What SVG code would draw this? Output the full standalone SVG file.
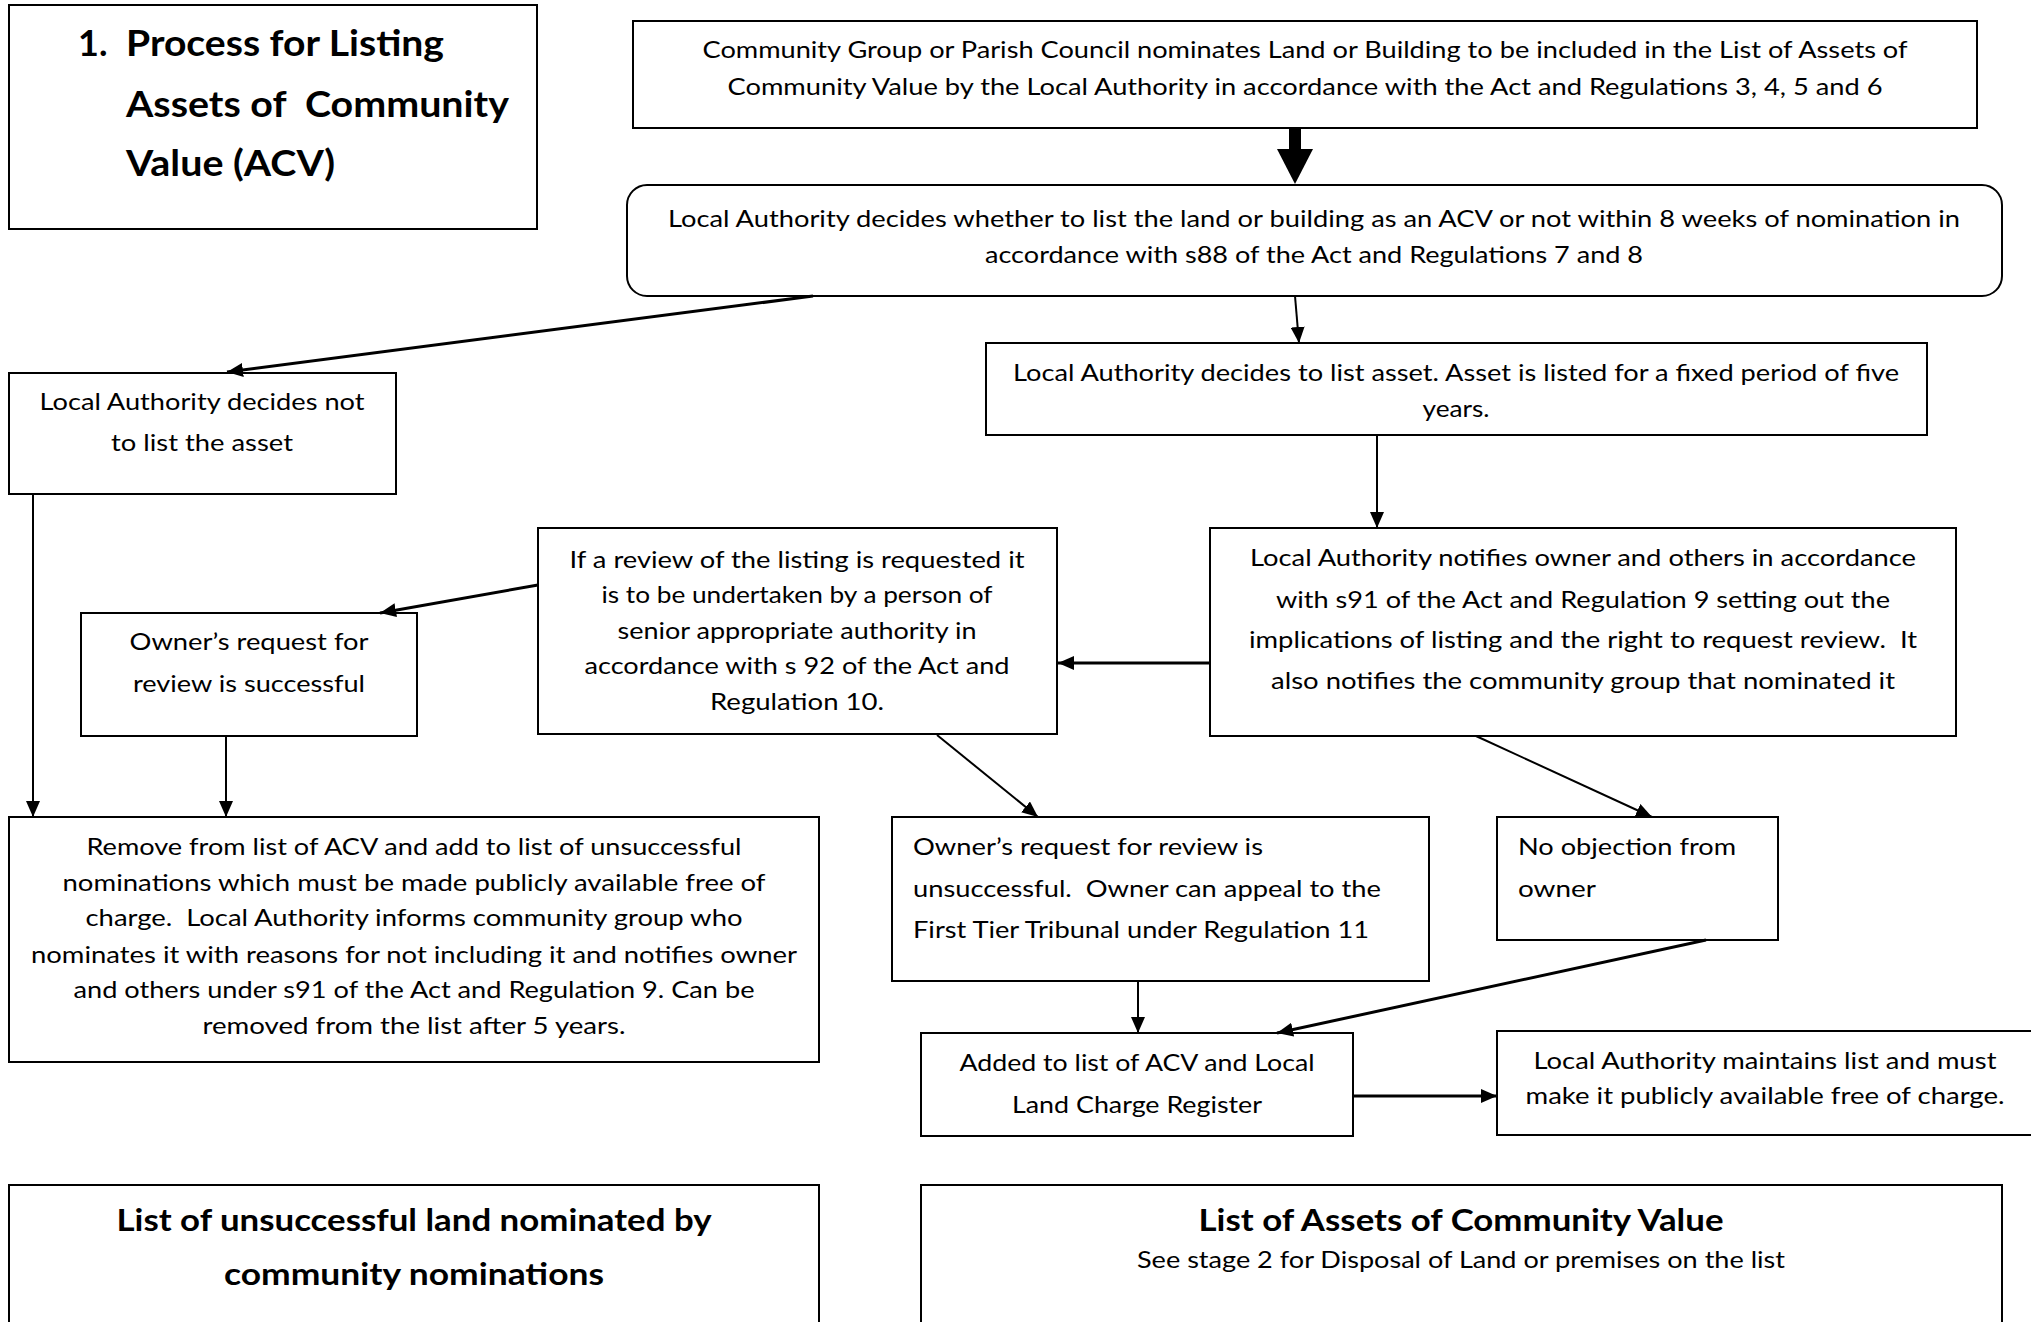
<svg xmlns="http://www.w3.org/2000/svg" width="2031" height="1322" viewBox="0 0 2031 1322">
<defs>
<style>
.box{fill:#fff;stroke:#000;stroke-width:2}
.t{font-family:Lato,"Liberation Sans",sans-serif;font-size:24px;fill:#000;text-anchor:middle}
.l{text-anchor:start}
.b{font-weight:bold}
.c{stroke:#000;stroke-width:2;fill:none}
.ck{stroke:#000;stroke-width:3;fill:none}
</style>
<marker id="ah" markerUnits="userSpaceOnUse" markerWidth="16" markerHeight="14" refX="16" refY="7" orient="auto">
<path d="M0,0 L16,7 L0,14 z" fill="#000"/>
</marker>
</defs>
<rect width="2031" height="1322" fill="#fff"/>

<g id="title">
<rect class="box" x="9" y="5" width="528" height="224"/>
<text class="t l b" x="78" y="56" style="font-size:36px">1.</text>
<text class="t l b" x="126" y="56" style="font-size:36px" textLength="318" lengthAdjust="spacingAndGlyphs">Process for Listing</text>
<text class="t l b" x="126" y="117" style="font-size:36px" textLength="383" lengthAdjust="spacingAndGlyphs" xml:space="preserve">Assets of  Community</text>
<text class="t l b" x="126" y="176" style="font-size:36px" textLength="209" lengthAdjust="spacingAndGlyphs">Value (ACV)</text>
</g>

<g id="nominate">
<rect class="box" x="633" y="21" width="1344" height="107"/>
<text class="t" x="1305" y="58" textLength="1205" lengthAdjust="spacingAndGlyphs">Community Group or Parish Council nominates Land or Building to be included in the List of Assets of</text>
<text class="t" x="1305" y="95" textLength="1155" lengthAdjust="spacingAndGlyphs">Community Value by the Local Authority in accordance with the Act and Regulations 3, 4, 5 and 6</text>
</g>

<g id="decide">
<rect class="box" x="627" y="185" width="1375" height="111" rx="20" ry="20"/>
<text class="t" x="1314" y="227" textLength="1292" lengthAdjust="spacingAndGlyphs">Local Authority decides whether to list the land or building as an ACV or not within 8 weeks of nomination in</text>
<text class="t" x="1314" y="263" textLength="658" lengthAdjust="spacingAndGlyphs">accordance with s88 of the Act and Regulations 7 and 8</text>
</g>

<g id="notlist">
<rect class="box" x="9" y="373" width="387" height="121"/>
<text class="t" x="202" y="410" textLength="325" lengthAdjust="spacingAndGlyphs">Local Authority decides not</text>
<text class="t" x="202" y="451" textLength="182" lengthAdjust="spacingAndGlyphs">to list the asset</text>
</g>

<g id="list">
<rect class="box" x="986" y="343" width="941" height="92"/>
<text class="t" x="1456" y="381" textLength="886" lengthAdjust="spacingAndGlyphs">Local Authority decides to list asset. Asset is listed for a fixed period of five</text>
<text class="t" x="1456" y="417" textLength="67" lengthAdjust="spacingAndGlyphs">years.</text>
</g>

<g id="notifies">
<rect class="box" x="1210" y="528" width="746" height="208"/>
<text class="t" x="1583" y="566" textLength="666" lengthAdjust="spacingAndGlyphs">Local Authority notifies owner and others in accordance</text>
<text class="t" x="1583" y="608" textLength="614" lengthAdjust="spacingAndGlyphs">with s91 of the Act and Regulation 9 setting out the</text>
<text class="t" x="1583" y="648" textLength="668" lengthAdjust="spacingAndGlyphs" xml:space="preserve">implications of listing and the right to request review.  It</text>
<text class="t" x="1583" y="689" textLength="624" lengthAdjust="spacingAndGlyphs">also notifies the community group that nominated it</text>
</g>

<g id="review">
<rect class="box" x="538" y="528" width="519" height="206"/>
<text class="t" x="797" y="568" textLength="455" lengthAdjust="spacingAndGlyphs">If a review of the listing is requested it</text>
<text class="t" x="797" y="603" textLength="391" lengthAdjust="spacingAndGlyphs">is to be undertaken by a person of</text>
<text class="t" x="797" y="639" textLength="359" lengthAdjust="spacingAndGlyphs">senior appropriate authority in</text>
<text class="t" x="797" y="674" textLength="425" lengthAdjust="spacingAndGlyphs">accordance with s 92 of the Act and</text>
<text class="t" x="797" y="710" textLength="174" lengthAdjust="spacingAndGlyphs">Regulation 10.</text>
</g>

<g id="successful">
<rect class="box" x="81" y="613" width="336" height="123"/>
<text class="t" x="249" y="650" textLength="239" lengthAdjust="spacingAndGlyphs">Owner’s request for</text>
<text class="t" x="249" y="692" textLength="232" lengthAdjust="spacingAndGlyphs">review is successful</text>
</g>

<g id="remove">
<rect class="box" x="9" y="817" width="810" height="245"/>
<text class="t" x="414" y="855" textLength="655" lengthAdjust="spacingAndGlyphs">Remove from list of ACV and add to list of unsuccessful</text>
<text class="t" x="414" y="891" textLength="703" lengthAdjust="spacingAndGlyphs">nominations which must be made publicly available free of</text>
<text class="t" x="414" y="926" textLength="657" lengthAdjust="spacingAndGlyphs" xml:space="preserve">charge.  Local Authority informs community group who</text>
<text class="t" x="414" y="963" textLength="766" lengthAdjust="spacingAndGlyphs">nominates it with reasons for not including it and notifies owner</text>
<text class="t" x="414" y="998" textLength="681" lengthAdjust="spacingAndGlyphs">and others under s91 of the Act and Regulation 9. Can be</text>
<text class="t" x="414" y="1034" textLength="423" lengthAdjust="spacingAndGlyphs">removed from the list after 5 years.</text>
</g>

<g id="unsuccessful">
<rect class="box" x="892" y="817" width="537" height="164"/>
<text class="t l" x="913" y="855" textLength="350" lengthAdjust="spacingAndGlyphs">Owner’s request for review is</text>
<text class="t l" x="913" y="897" textLength="468" lengthAdjust="spacingAndGlyphs" xml:space="preserve">unsuccessful.  Owner can appeal to the</text>
<text class="t l" x="913" y="938" textLength="456" lengthAdjust="spacingAndGlyphs">First Tier Tribunal under Regulation 11</text>
</g>

<g id="noobjection">
<rect class="box" x="1497" y="817" width="281" height="123"/>
<text class="t l" x="1518" y="855" textLength="218" lengthAdjust="spacingAndGlyphs">No objection from</text>
<text class="t l" x="1518" y="897" textLength="78" lengthAdjust="spacingAndGlyphs">owner</text>
</g>

<g id="added">
<rect class="box" x="921" y="1033" width="432" height="103"/>
<text class="t" x="1137" y="1071" textLength="355" lengthAdjust="spacingAndGlyphs">Added to list of ACV and Local</text>
<text class="t" x="1137" y="1113" textLength="250" lengthAdjust="spacingAndGlyphs">Land Charge Register</text>
</g>

<g id="maintains">
<rect class="box" x="1497" y="1031" width="540" height="104"/>
<text class="t" x="1765" y="1069" textLength="463" lengthAdjust="spacingAndGlyphs">Local Authority maintains list and must</text>
<text class="t" x="1765" y="1104" textLength="479" lengthAdjust="spacingAndGlyphs">make it publicly available free of charge.</text>
</g>

<g id="unsuccessfullist">
<rect class="box" x="9" y="1185" width="810" height="145"/>
<text class="t b" x="414" y="1231" style="font-size:31px" textLength="595" lengthAdjust="spacingAndGlyphs">List of unsuccessful land nominated by</text>
<text class="t b" x="414" y="1285" style="font-size:31px" textLength="380" lengthAdjust="spacingAndGlyphs">community nominations</text>
</g>

<g id="acvlist">
<rect class="box" x="921" y="1185" width="1081" height="145"/>
<text class="t b" x="1461" y="1231" style="font-size:31px" textLength="525" lengthAdjust="spacingAndGlyphs">List of Assets of Community Value</text>
<text class="t" x="1461" y="1268" textLength="648" lengthAdjust="spacingAndGlyphs">See stage 2 for Disposal of Land or premises on the list</text>
</g>

<g id="connectors">
<line x1="1295" y1="128" x2="1295" y2="150" stroke="#000" stroke-width="12"/>
<polygon points="1277,149 1313,149 1295,184" fill="#000"/>
<line class="ck" x1="813" y1="296" x2="227" y2="372" marker-end="url(#ah)"/>
<line class="c" x1="1295" y1="296" x2="1299" y2="343" marker-end="url(#ah)"/>
<line class="c" x1="1377" y1="435" x2="1377" y2="528" marker-end="url(#ah)"/>
<line class="ck" x1="1210" y1="663" x2="1058" y2="663" marker-end="url(#ah)"/>
<line class="ck" x1="538" y1="585" x2="380" y2="613" marker-end="url(#ah)"/>
<line class="c" x1="33" y1="494" x2="33" y2="817" marker-end="url(#ah)"/>
<line class="c" x1="226" y1="736" x2="226" y2="817" marker-end="url(#ah)"/>
<line class="c" x1="937" y1="735" x2="1038" y2="817" marker-end="url(#ah)"/>
<line class="c" x1="1476" y1="736" x2="1652" y2="817" marker-end="url(#ah)"/>
<line class="ck" x1="1706" y1="940" x2="1277" y2="1033" marker-end="url(#ah)"/>
<line class="c" x1="1138" y1="981" x2="1138" y2="1033" marker-end="url(#ah)"/>
<line class="ck" x1="1353" y1="1096" x2="1497" y2="1096" marker-end="url(#ah)"/>
</g>
</svg>
